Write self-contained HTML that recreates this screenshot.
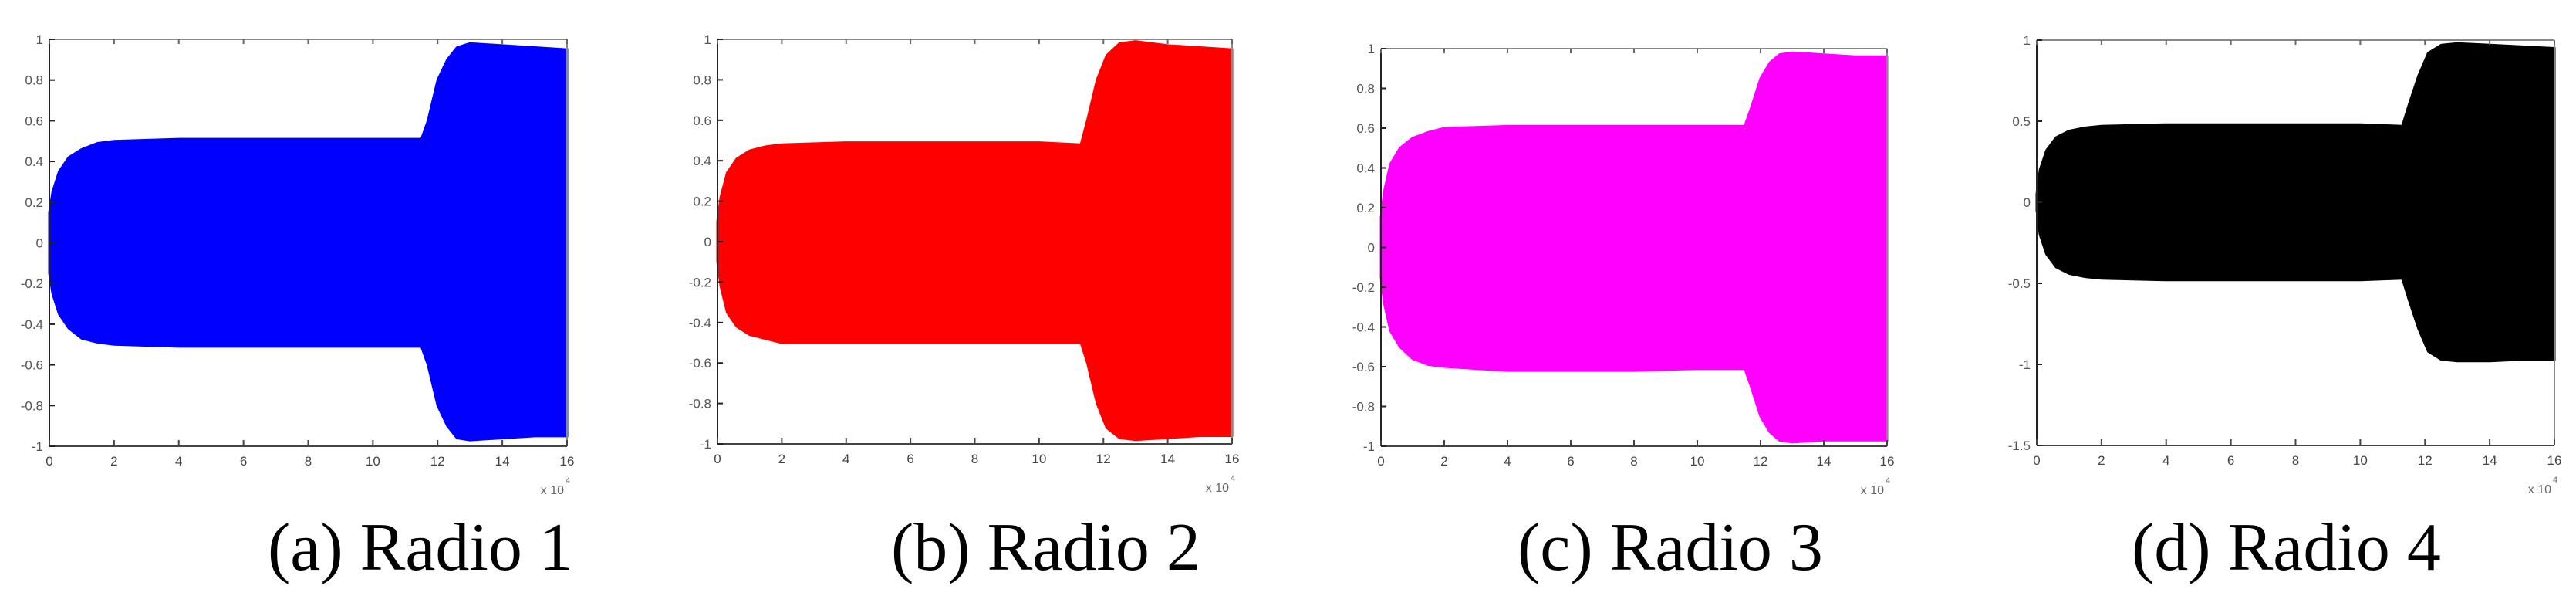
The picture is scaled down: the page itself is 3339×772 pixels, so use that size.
<!DOCTYPE html>
<html><head><meta charset="utf-8"><style>
html,body{margin:0;padding:0;background:#fff;}
svg{display:block;}
</style></head><body>
<svg id="fig" width="3339" height="772" viewBox="0 0 3339 772" xmlns="http://www.w3.org/2000/svg"></svg>
<script>
// x positions (units of 1e4 samples) for envelopes
const xs1 = [0, 0.1, 0.3, 0.6, 1.0, 1.5, 2.0, 4.0, 6.0, 8.0, 10.0, 11.5, 11.7, 12.0, 12.3, 12.6, 13.0, 14.0, 15.0, 16.0];
const up1 = [0.15, 0.25, 0.35, 0.42, 0.46, 0.49, 0.5, 0.51, 0.51, 0.51, 0.51, 0.51, 0.6, 0.8, 0.9, 0.96, 0.98, 0.97, 0.96, 0.95];
const lo1 = [-0.15, -0.25, -0.35, -0.42, -0.47, -0.49, -0.5, -0.51, -0.51, -0.51, -0.51, -0.51, -0.6, -0.8, -0.9, -0.96, -0.97, -0.96, -0.95, -0.95];
const xs2 = [0, 0.1, 0.3, 0.6, 1.0, 1.5, 2.0, 4.0, 6.0, 8.0, 10.0, 11.3, 11.5, 11.8, 12.1, 12.5, 13.0, 14.0, 15.0, 16.0];
const up2 = [0.1, 0.22, 0.34, 0.41, 0.45, 0.47, 0.48, 0.49, 0.49, 0.49, 0.49, 0.48, 0.6, 0.8, 0.92, 0.98, 0.99, 0.97, 0.96, 0.95];
const lo2 = [-0.1, -0.22, -0.35, -0.42, -0.46, -0.48, -0.5, -0.5, -0.5, -0.5, -0.5, -0.5, -0.6, -0.8, -0.92, -0.97, -0.98, -0.97, -0.96, -0.96];
const xs3 = [0, 0.1, 0.3, 0.6, 1.0, 1.5, 2.0, 4.0, 6.0, 8.0, 10.0, 11.5, 11.7, 12.0, 12.3, 12.6, 13.0, 14.0, 15.0, 16.0];
const up3 = [0.15, 0.28, 0.42, 0.5, 0.55, 0.58, 0.6, 0.61, 0.61, 0.61, 0.61, 0.61, 0.7, 0.85, 0.93, 0.97, 0.98, 0.97, 0.96, 0.96];
const lo3 = [-0.15, -0.28, -0.42, -0.5, -0.56, -0.59, -0.6, -0.62, -0.62, -0.62, -0.61, -0.61, -0.7, -0.85, -0.93, -0.97, -0.98, -0.97, -0.97, -0.97];
const xs4 = [0, 0.1, 0.3, 0.6, 1.0, 1.5, 2.0, 4.0, 6.0, 8.0, 10.0, 11.3, 11.5, 11.8, 12.1, 12.5, 13.0, 14.0, 15.0, 16.0];
const up4 = [0.05, 0.2, 0.32, 0.4, 0.44, 0.46, 0.47, 0.48, 0.48, 0.48, 0.48, 0.47, 0.6, 0.78, 0.92, 0.97, 0.98, 0.97, 0.96, 0.95];
const lo4 = [-0.05, -0.2, -0.32, -0.4, -0.44, -0.46, -0.47, -0.48, -0.48, -0.48, -0.48, -0.47, -0.6, -0.78, -0.92, -0.97, -0.98, -0.98, -0.97, -0.97];
const xTicks = [0, 2, 4, 6, 8, 10, 12, 14, 16];
const yTicksA = [-1, -0.8, -0.6, -0.4, -0.2, 0, 0.2, 0.4, 0.6, 0.8, 1];
const yTicksD = [-1.5, -1, -0.5, 0, 0.5, 1];
const captions = ["(a) Radio 1", "(b) Radio 2", "(c) Radio 3", "(d) Radio 4"];

const NS = "http://www.w3.org/2000/svg";
const svg = document.getElementById('fig');
function mk(tag, attrs, parent){const e=document.createElementNS(NS,tag);for(const k in attrs)e.setAttribute(k,attrs[k]);(parent||svg).appendChild(e);return e;}

const panels = [
 {l:64,r:735,t:51,b:578,ymin:-1,ymax:1,yt:yTicksA,xs:xs1,up:up1,lo:lo1,color:'#0000ff',cap:captions[0],cx:347},
 {l:930,r:1597,t:51,b:575,ymin:-1,ymax:1,yt:yTicksA,xs:xs2,up:up2,lo:lo2,color:'#ff0000',cap:captions[1],cx:1155},
 {l:1790,r:2446,t:63,b:578,ymin:-1,ymax:1,yt:yTicksA,xs:xs3,up:up3,lo:lo3,color:'#ff00ff',cap:captions[2],cx:1967},
 {l:2640,r:3311,t:52,b:577,ymin:-1.5,ymax:1,yt:yTicksD,xs:xs4,up:up4,lo:lo4,color:'#000000',cap:captions[3],cx:2763}
];

panels.forEach((p,i)=>{
  const g = mk('g',{});
  
  
  const X = v => p.l + (v-0)/(16-0)*(p.r-p.l);
  const Y = v => p.b - (v-p.ymin)/(p.ymax-p.ymin)*(p.b-p.t);
  let d = 'M'+X(p.xs[0])+','+Y(p.up[0]);
  for(let k=1;k<p.xs.length;k++) d+=' L'+X(p.xs[k])+','+Y(p.up[k]);
  for(let k=p.xs.length-1;k>=0;k--) d+=' L'+X(p.xs[k])+','+Y(p.lo[k]);
  d+=' Z';
  const sig = mk('path',{d:d,fill:p.color,stroke:p.color,'stroke-width':3},g);
  
  
  const top = mk('line',{x1:p.l,y1:p.t,x2:p.r,y2:p.t,stroke:'#888','stroke-width':2},g);
  
  
  const right = mk('line',{x1:p.r,y1:p.t,x2:p.r,y2:p.b,stroke:'#888','stroke-width':2},g);
  
  
  const left = mk('line',{x1:p.l,y1:p.t,x2:p.l,y2:p.b,stroke:'#222','stroke-width':2},g);
  
  
  const bottom = mk('line',{x1:p.l,y1:p.b,x2:p.r,y2:p.b,stroke:'#444','stroke-width':2},g);
  
  
  xTicks.forEach(v=>{
    const x = X(v);
    mk('line',{x1:x,y1:p.b,x2:x,y2:p.b-8,stroke:'#444','stroke-width':2},g);
    mk('line',{x1:x,y1:p.t,x2:x,y2:p.t+6,stroke:'#666','stroke-width':2},g);
    const t = mk('text',{x:x,y:p.b+25,'text-anchor':'middle','font-family':'Liberation Sans, sans-serif','font-size':17,fill:'#444'},g);
    t.textContent = v;
    
    
  });
  p.yt.forEach(v=>{
    const y = Y(v);
    mk('line',{x1:p.l,y1:y,x2:p.l+7,y2:y,stroke:'#222','stroke-width':2},g);
    const t = mk('text',{x:p.l-8,y:y+6,'text-anchor':'end','font-family':'Liberation Sans, sans-serif','font-size':17,fill:'#555'},g);
    t.textContent = v;
    
    
  });
  const ex = mk('text',{x:p.r-4,y:p.b+62,'text-anchor':'end','font-family':'Liberation Sans, sans-serif','font-size':16,fill:'#666'},g);
  ex.textContent = 'x 10';
  
  
  const sup = mk('text',{x:p.r-2,y:p.b+48,'font-family':'Liberation Sans, sans-serif','font-size':11,fill:'#666'},g);
  sup.textContent = '4';
  
  
  const cap = mk('text',{x:p.cx,y:738,'font-family':'Liberation Serif, serif','font-size':88,fill:'#000'},g);
  cap.textContent = p.cap;
  
  
});
</script>
</body></html>
